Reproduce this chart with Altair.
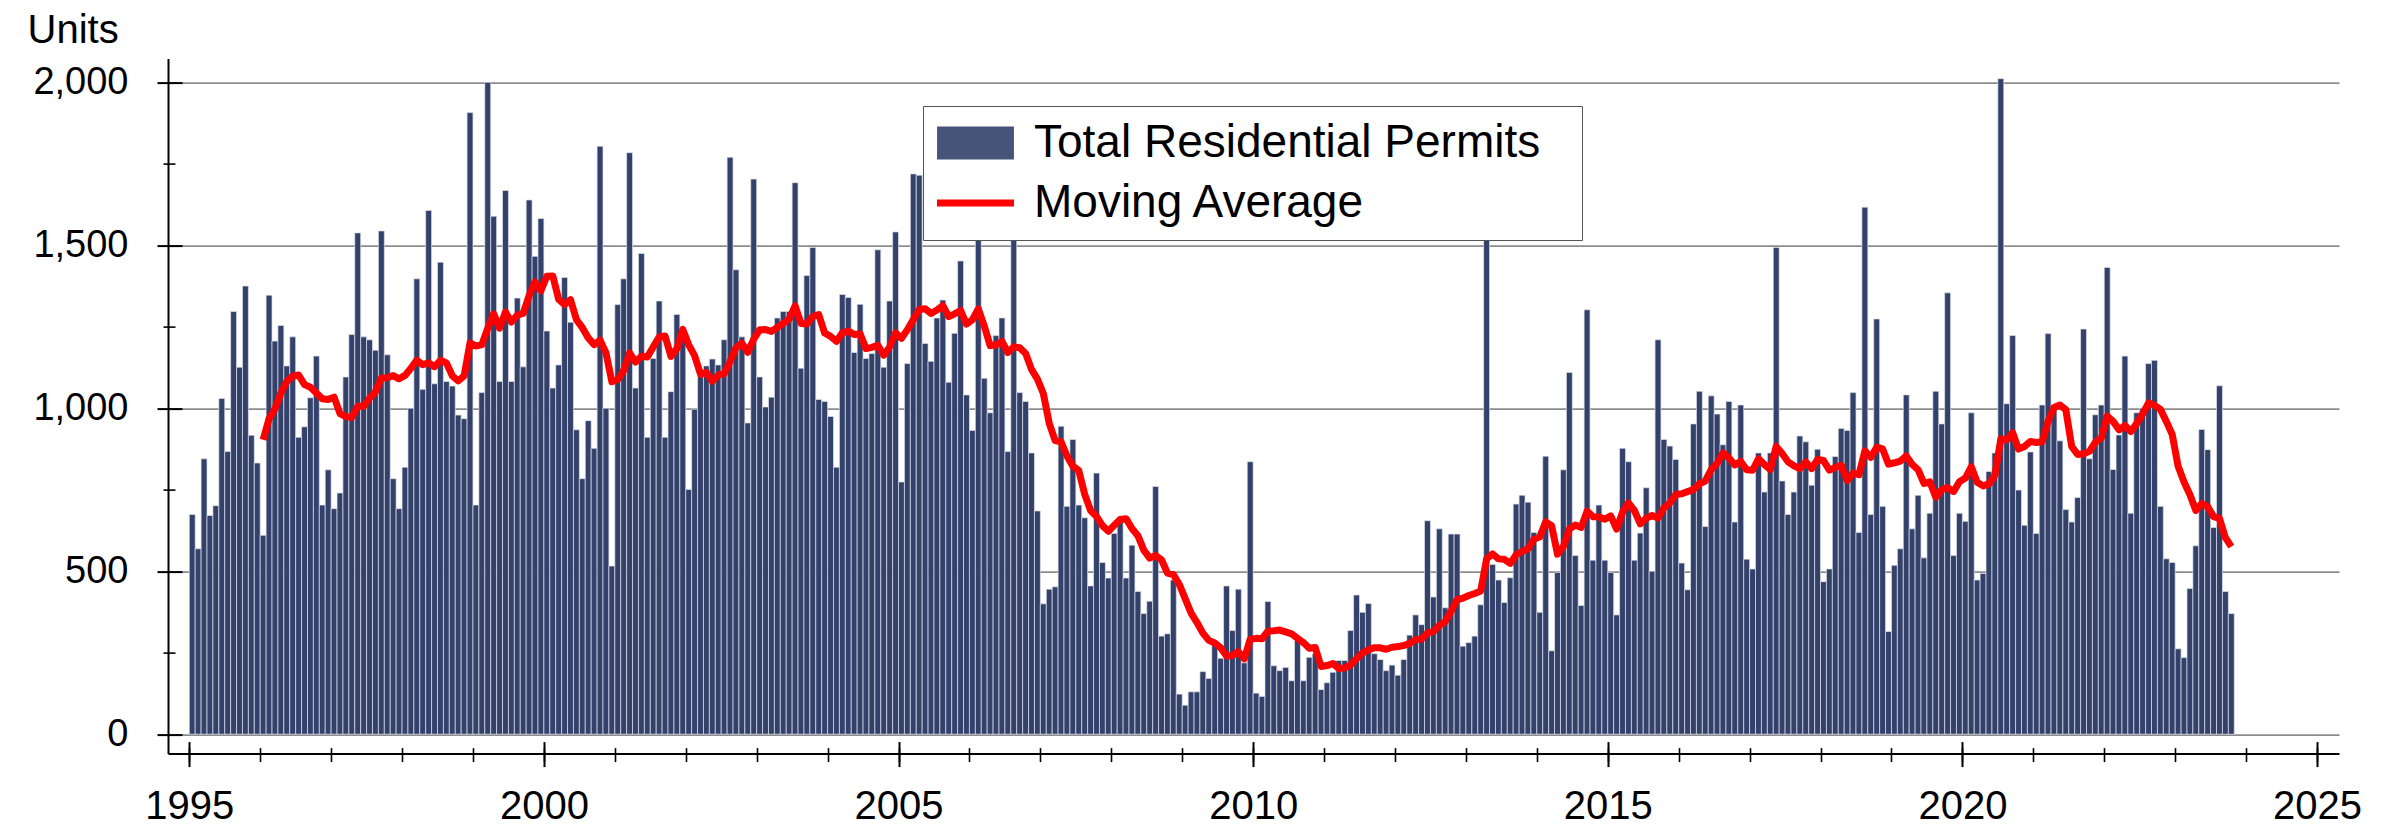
import altair as alt
import pandas as pd

# ---------------- data (monthly permits) ----------------
years = list(range(1995, 2024))
p1995 = [674, 569, 845, 671, 701, 1030, 867, 1297, 1126, 1375, 917, 832]
p1996 = [610, 1347, 1206, 1254, 1130, 1219, 911, 943, 1032, 1160, 703, 811]
p1997 = [692, 740, 1096, 1226, 1538, 1219, 1210, 1178, 1544, 1164, 784, 692]
p1998 = [819, 1000, 1397, 1058, 1607, 1075, 1448, 1082, 1068, 979, 968, 1907]
p1999 = [703, 1048, 2000, 1589, 1082, 1668, 1082, 1338, 1127, 1639, 1466, 1582]
p2000 = [1237, 1062, 1133, 1401, 1264, 934, 784, 962, 877, 1804, 1000, 516]
p2001 = [1318, 1397, 1784, 1062, 1475, 911, 1153, 1329, 911, 1051, 1288, 1223]
p2002 = [751, 997, 1099, 1130, 1151, 1133, 1210, 1770, 1425, 1219, 955, 1703]
p2003 = [1096, 1004, 1034, 1277, 1297, 1297, 1692, 1123, 1407, 1493, 1027, 1021]
p2004 = [975, 819, 1349, 1340, 1171, 1319, 1153, 1168, 1486, 1126, 1329, 1541]
p2005 = [774, 1137, 1719, 1715, 1199, 1144, 1277, 1332, 1080, 1230, 1452, 1041]
p2006 = [932, 1540, 1092, 986, 1223, 1277, 867, 1540, 1048, 1021, 863, 685]
p2007 = [400, 445, 452, 945, 699, 904, 703, 664, 455, 801, 527, 479]
p2008 = [616, 664, 479, 580, 438, 370, 408, 760, 301, 308, 473, 123]
p2009 = [89, 130, 130, 192, 171, 274, 233, 455, 318, 445, 219, 836]
p2010 = [126, 116, 407, 210, 195, 205, 164, 288, 164, 236, 247, 137]
p2011 = [158, 190, 226, 226, 318, 427, 374, 401, 247, 229, 195, 212]
p2012 = [181, 229, 304, 366, 336, 655, 421, 630, 388, 614, 614, 270]
p2013 = [281, 301, 397, 1545, 521, 473, 404, 480, 706, 733, 712, 619]
p2014 = [374, 853, 256, 496, 811, 1110, 548, 395, 1302, 534, 703, 534]
p2015 = [496, 366, 877, 836, 534, 617, 756, 500, 1210, 904, 884, 843]
p2016 = [525, 443, 952, 1052, 637, 1038, 982, 888, 1021, 651, 1010, 537]
p2017 = [507, 863, 743, 863, 1493, 777, 674, 743, 915, 897, 764, 874]
p2018 = [468, 507, 852, 938, 932, 1048, 619, 1617, 674, 1274, 699, 315]
p2019 = [518, 569, 1041, 630, 733, 541, 678, 1052, 952, 1354, 548, 678]
p2020 = [653, 986, 473, 493, 806, 863, 2011, 1014, 1223, 749, 641, 866]
p2021 = [616, 1010, 1229, 1000, 900, 689, 651, 726, 1243, 845, 980, 1010]
p2022 = [1432, 812, 918, 1160, 678, 986, 1000, 1137, 1147, 699, 538, 527]
p2023 = [262, 235, 447, 578, 935, 873, 634, 1069, 438, 370]

yearly = [p1995, p1996, p1997, p1998, p1999, p2000, p2001, p2002, p2003, p2004,
          p2005, p2006, p2007, p2008, p2009, p2010, p2011, p2012, p2013, p2014,
          p2015, p2016, p2017, p2018, p2019, p2020, p2021, p2022, p2023]

BAR_SERIES = "Total Residential Permits"
MA_SERIES = "Moving Average"
x_major_ticks = [1995, 2000, 2005, 2010, 2015, 2020, 2025]
x_minor_ticks = list(range(1995, 2026))
y_major_ticks = [0, 500, 1000, 1500, 2000]
y_minor_ticks = [250, 750, 1250, 1750]

rows = []
for y, vals in zip(years, yearly):
    for m, v in enumerate(vals, start=1):
        rows.append({"year": y, "month": m, "permits": v})
df = pd.DataFrame(rows)
df["idx"] = range(len(df))

# ---------------- styling ----------------
FONT = "Liberation Sans"
BAR_COLOR = "#33416b"
LINE_COLOR = "#ff0000"
X_DOMAIN = [1994.70, 2025.31]
Y_DOMAIN = [-59.5, 2072.7]
PLOT_W, PLOT_H = 2171, 695

xs = alt.Scale(domain=X_DOMAIN, nice=False, zero=False)
ys = alt.Scale(domain=Y_DOMAIN, nice=False, zero=False)

RECT_PATH = "M-2.33,-1H2.33V1H-2.33Z"


def axis_common(**kw):
    base = dict(tickColor="black", domainColor="black", labelFont=FONT,
                labelColor="black", title=None, grid=False)
    base.update(kw)
    return alt.Axis(**base)


x_main = axis_common(orient="bottom", values=x_major_ticks, format="d", tickSize=13,
                     tickWidth=2, domainWidth=2, labelFontSize=40, labelPadding=20,
                     labelFlush=False, labelOverlap=False)
y_main = axis_common(orient="left", values=y_major_ticks, format=",d", tickSize=11,
                     tickWidth=2, domainWidth=2, labelFontSize=38, labelPadding=29,
                     labelOverlap=False, grid=True, gridColor="#8c8c8c", gridWidth=1.6,
                     title="Units", titleAngle=0, titleAlign="left",
                     titleBaseline="alphabetic", titleX=-141, titleY=-16,
                     titleFont=FONT, titleFontSize=40, titleFontWeight="normal",
                     titleColor="black")
x_minor = axis_common(orient="bottom", values=x_minor_ticks, tickSize=8, tickWidth=1.6,
                      labels=False, domain=False)
y_minor = axis_common(orient="left", values=y_minor_ticks, tickSize=5, tickWidth=1.6,
                      labels=False, domain=False)
x_in_major = axis_common(orient="bottom", values=x_major_ticks, tickSize=12, tickWidth=2,
                         labels=False, domain=False, offset=-12)
y_in_major = axis_common(orient="left", values=y_major_ticks, tickSize=14, tickWidth=2,
                         labels=False, domain=False, offset=-14)
x_in_minor = axis_common(orient="bottom", values=x_minor_ticks, tickSize=6, tickWidth=1.6,
                         labels=False, domain=False, offset=-6)
y_in_minor = axis_common(orient="left", values=y_minor_ticks, tickSize=7, tickWidth=1.6,
                         labels=False, domain=False, offset=-7)

# legend box with both labels (from the bar fill scale) ...
legend_bar = alt.Legend(
    title="\u00a0", titleOrient="right", titlePadding=28, titleFontSize=44,
    orient="none", legendX=755, legendY=47.4, direction="vertical",
    labelFont=FONT, labelFontSize=46, labelColor="black", labelOffset=35.5,
    labelLimit=1200, symbolType=RECT_PATH, symbolSize=1089, symbolOffset=15.5,
    symbolStrokeWidth=0, symbolOpacity=0.9,
    strokeColor="#555555", fillColor="white", padding=14, rowPadding=14,
)
# ... and the red line symbol (from the line stroke scale) on the second row
legend_line = alt.Legend(
    title=None, orient="none", legendX=765.5, legendY=102.4, direction="vertical",
    symbolType="stroke", symbolSize=5929, symbolStrokeWidth=7, labelExpr="''",
    padding=0,
)

bars = alt.Chart(df).transform_calculate(
    t0="datum.year + (datum.month - 1) / 12",
    t1="datum.year + datum.month / 12",
    series="'Total Residential Permits'",
).mark_bar(stroke="#dfe2ea", strokeWidth=0.7).encode(
    x=alt.X("t0:Q", scale=xs, axis=x_main),
    x2="t1:Q",
    y=alt.Y("permits:Q", scale=ys, axis=y_main),
    y2=alt.datum(0),
    fill=alt.Fill("series:N",
                  scale=alt.Scale(domain=[BAR_SERIES, MA_SERIES],
                                  range=[BAR_COLOR, "transparent"]),
                  legend=legend_bar),
)

line = alt.Chart(df).transform_window(
    ma="mean(permits)", frame=[-11, 0], sort=[alt.SortField("idx")]
).transform_filter("datum.idx >= 12").transform_calculate(
    tc="datum.year + (datum.month - 0.5) / 12",
    series="'Moving Average'",
).mark_line(strokeWidth=7, strokeJoin="round", strokeCap="butt").encode(
    x=alt.X("tc:Q", scale=xs, axis=x_minor),
    y=alt.Y("ma:Q", scale=ys, axis=y_minor),
    stroke=alt.Stroke("series:N",
                      scale=alt.Scale(domain=[MA_SERIES], range=[LINE_COLOR]),
                      legend=legend_line),
)

ticks_a = alt.Chart(df).mark_point(opacity=0).encode(
    x=alt.X("year:Q", scale=xs, axis=x_in_major),
    y=alt.Y("permits:Q", scale=ys, axis=y_in_major),
)
ticks_b = alt.Chart(df).mark_point(opacity=0).encode(
    x=alt.X("year:Q", scale=xs, axis=x_in_minor),
    y=alt.Y("permits:Q", scale=ys, axis=y_in_minor),
)

chart = alt.layer(bars, line, ticks_a, ticks_b).resolve_axis(
    x="independent", y="independent"
).properties(
    width=PLOT_W, height=PLOT_H,
    padding={"left": 160, "top": 50.6, "right": 42, "bottom": 73.4},
    autosize=alt.AutoSizeParams(type="none"),
    background="white",
).configure_view(stroke=None)

chart.save("out.html", embed_options={"renderer": "svg", "actions": False})
